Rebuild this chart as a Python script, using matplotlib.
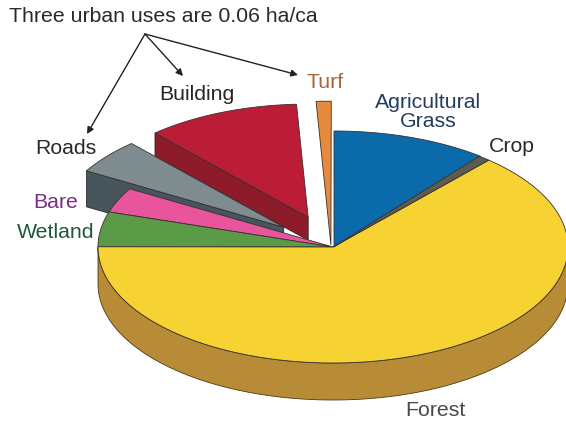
import numpy as np
import matplotlib
matplotlib.use("Agg")
import matplotlib.pyplot as plt
from matplotlib.patches import Polygon

plt.rcParams['font.family'] = ['Liberation Sans', 'DejaVu Sans']

# land use shares in percent, clockwise from 12 o'clock
names = ["Grass", "Crop", "Forest", "Wetland", "Bare", "Roads", "Building", "Turf"]
shares = [10.7, 0.83, 63.5, 4.86, 3.47, 5.0, 10.83, 0.83]

# styles for each slice
face_cols = ["#0b6aa9", "#5c5c50", "#f6d232", "#5b9a46", "#e8559c", "#7e8c90", "#bb1d36", "#e88a3c"]
side_cols = [None, None, "#b88c36", None, None, "#47565c", "#8d1b2a", None]
explode = [0, 0, 0, 0, 0, 0.27, 0.277, 0.017]
stretch = [1, 1, 1, 1, 1, 0.97, 0.976, 1.24]
depth = [0, 0, 37, 0, 0, 36, 23, 0]
nudge_x = [1, 0, 0, 0, 0, 0, 0, -2]
zorders = [8, 9, 7, 6, 5, 3, 2, 4]

# the pie, in pixels of the picture
cx, cy = 333, 247
rx, ry = 235, 116

fig = plt.figure(figsize=(5.66, 4.23), dpi=100)
ax = fig.add_axes([0, 0, 1, 1])
ax.set_xlim(0, 566)
ax.set_ylim(423, 0)
ax.axis("off")


def px(a, r=1.0, dx=0.0, dy=0.0):
    a = np.radians(a)
    return cx + dx + rx * r * np.cos(a), cy + dy - ry * r * np.sin(a)


# slice angles from the shares
ends = 90 - np.cumsum(shares) * 3.6
starts = np.append(90, ends[:-1])


def draw_slice(i):
    mid = np.radians((starts[i] + ends[i]) / 2)
    dx = rx * explode[i] * np.cos(mid) + nudge_x[i]
    dy = -ry * explode[i] * np.sin(mid)
    ang = np.linspace(starts[i], ends[i], 200)
    x, y = px(ang, stretch[i], dx, dy)
    tipx, tipy = cx + dx, cy + dy

    if names[i] == "Forest":
        # rim along the front of the pie
        xs, ys = px(np.linspace(180, 360, 200))
        side = np.r_[np.c_[xs, ys], np.c_[xs[::-1], ys[::-1] + depth[i]]]
        ax.add_patch(Polygon(side, fc=side_cols[i], ec="#4a3a1c", lw=0.6, zorder=1))
    elif depth[i] > 0:
        # cut face of the pulled out slices
        side = [[x[0], y[0]], [tipx, tipy], [tipx, tipy + depth[i]], [x[0], y[0] + depth[i]]]
        ax.add_patch(Polygon(side, fc=side_cols[i], ec="#2a2a2a", lw=0.6, zorder=zorders[i]))

    pts = np.r_[[[tipx, tipy]], np.c_[x, y]]
    ax.add_patch(Polygon(pts, fc=face_cols[i], ec="#3a3030", lw=0.6, zorder=zorders[i] + 0.5))


for i in range(len(shares)):
    draw_slice(i)

# labels
fs = 15.3
ax.text(9, 16, "Three urban uses are 0.06 ha/ca", fontsize=fs, color="#2a2a2a", va="center", zorder=20)
ax.text(197, 94, "Building", fontsize=fs, color="#2a2420", ha="center", va="center", zorder=20)
ax.text(325, 83, "Turf", fontsize=fs, color="#a8643c", ha="center", va="center", zorder=20)
ax.text(428, 112, "Agricultural\nGrass", fontsize=fs, color="#233d5e", ha="center", va="center", linespacing=1.05, zorder=20)
ax.text(512, 146, "Crop", fontsize=fs, color="#2a2a2a", ha="center", va="center", zorder=20)
ax.text(66, 148, "Roads", fontsize=fs, color="#2a2a2a", ha="center", va="center", zorder=20)
ax.text(56, 203, "Bare", fontsize=fs, color="#7a2c86", ha="center", va="center", zorder=20)
ax.text(56, 232, "Wetland", fontsize=fs, color="#1f5a36", ha="center", va="center", zorder=20)
ax.text(435, 410, "Forest", fontsize=fs, color="#4a4a48", ha="center", va="center", zorder=20)

# arrows from the note
for target in [(298, 75), (183, 76), (87, 134)]:
    ax.annotate("", xy=target, xytext=(145, 34), zorder=20,
                arrowprops=dict(arrowstyle="-|>", mutation_scale=10, color="#222222", lw=1.0,
                                shrinkA=0, shrinkB=0))

fig.savefig("out.png", dpi=100)
